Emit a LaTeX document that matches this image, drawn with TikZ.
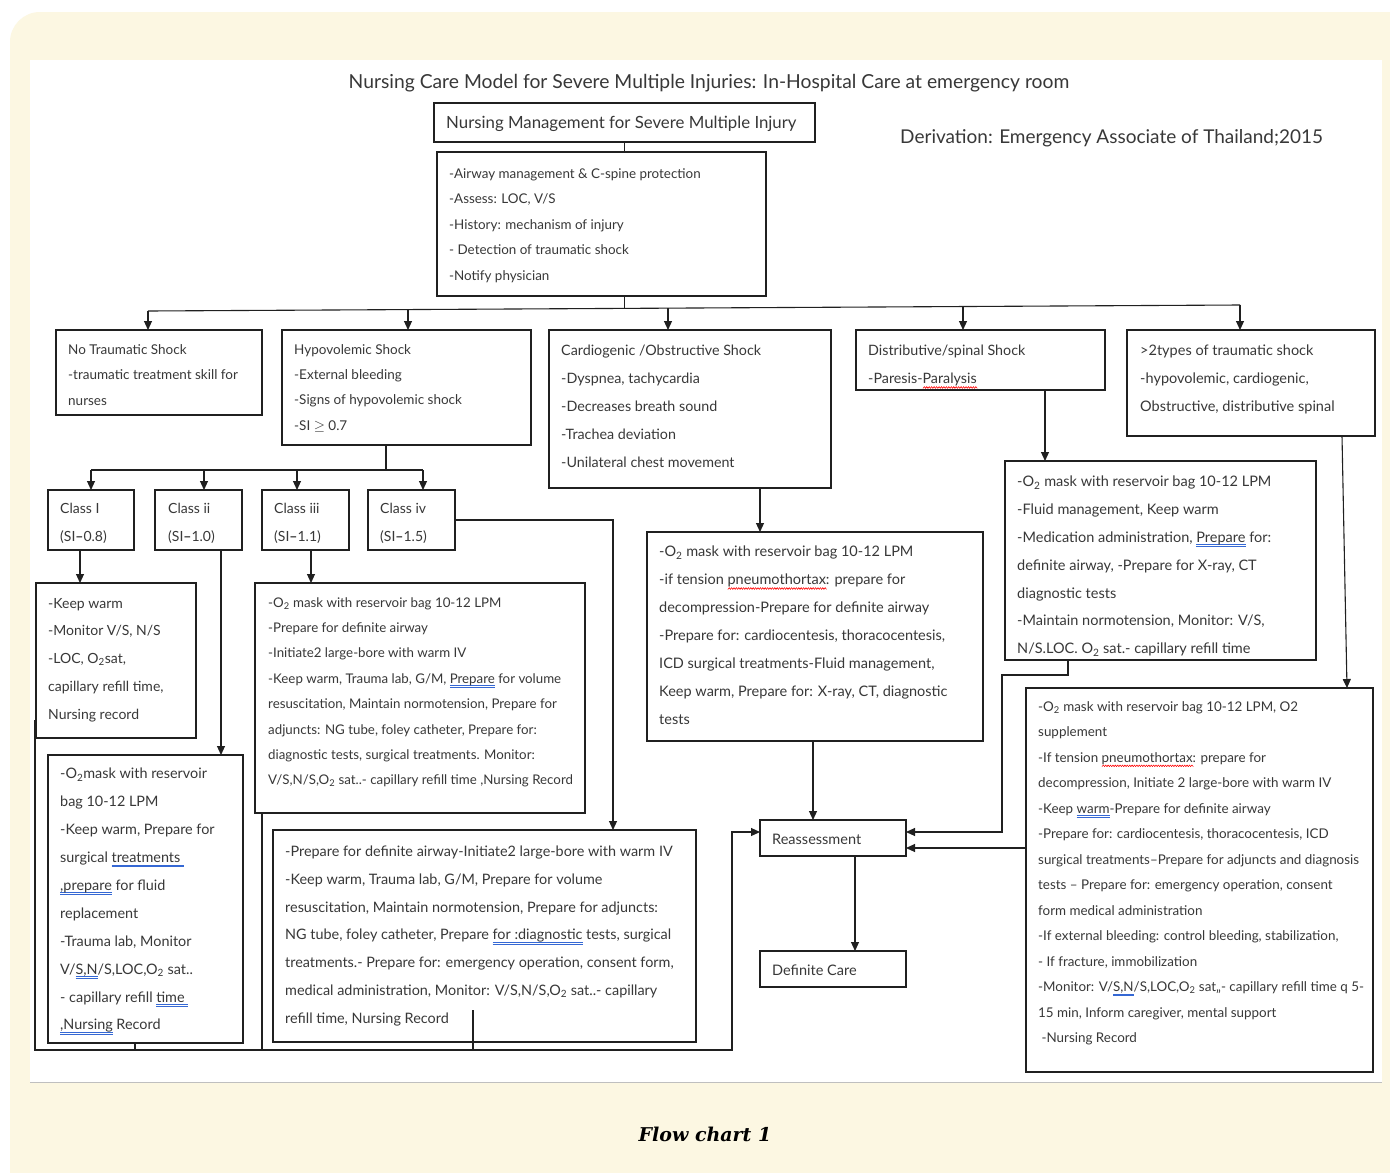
\documentclass[tikz,border=0pt]{standalone}
\usepackage{fontspec}
\setmainfont{Lato}
\newfontfamily\capfont{DejaVu Serif}
\usetikzlibrary{arrows.meta,calc}
\definecolor{cream}{HTML}{FCF7E2}
\definecolor{txtc}{HTML}{383838}
\definecolor{wordblue}{HTML}{3568D4}
\definecolor{linec}{HTML}{202020}
\newsavebox\mywordbox
\newcommand\bul[1]{\sbox\mywordbox{#1}\rlap{\color{wordblue}\rule[-2.6pt]{\wd\mywordbox}{0.6pt}}\rlap{\color{wordblue}\rule[-4.2pt]{\wd\mywordbox}{0.6pt}}\usebox\mywordbox}
\newcommand\zigpiece{\hbox{\rotatebox[origin=c]{45}{\rule{2.4pt}{0.55pt}}\kern-0.9pt\rotatebox[origin=c]{-45}{\rule{2.4pt}{0.55pt}}\kern-0.9pt}}
\newcommand\redw[1]{\sbox\mywordbox{#1}\rlap{\color{red}\raisebox{-4pt}[0pt][0pt]{\hbox to \wd\mywordbox{\xleaders\zigpiece\hfil}}}\usebox\mywordbox}
\newcommand\Otwo{O\textsubscript{2}}
\newcommand\sidash{\textbf{–}}
\newcommand\mkbox[5]{\node[boxst,anchor=north west,minimum width={(#4-#2)*1pt},minimum height={(#5-#3)*1pt}] (#1) at (#2,#3) {};}
\tikzset{
  boxst/.style={draw=linec,line width=1.3pt,inner sep=0pt,outer sep=0pt,fill=white},
  txt/.style={text=txtc,align=left,inner sep=0pt,anchor=north west,font=\fontsize{13.4}{25.5}\selectfont},
  one/.style={text=txtc,inner sep=0pt,anchor=west},
  arr/.style={draw=linec,line width=1.1pt,-{Triangle[length=9pt,width=8pt]}},
  ln/.style={draw=linec,line width=1.1pt},
}
\begin{document}
\begin{tikzpicture}[x=1pt,y=-1pt]
\useasboundingbox (0,0) rectangle (1390,1173);
\begin{scope}
\clip (0,0) rectangle (1390,1173);
\fill[white] (0,0) rectangle (1390,1173);
\fill[cream,rounded corners=30pt] (10,12) rectangle (1440,1220);
\end{scope}
\fill[white] (30,60) rectangle (1382,1082);
\draw[black!25,line width=0.8pt] (30,1082) -- (1382,1082);

% titles
\node[text=txtc,inner sep=0pt,font=\fontsize{19.3}{22}\selectfont,anchor=center] (title) at (709,83) {Nursing Care Model for Severe Multiple Injuries: In-Hospital Care at emergency room};
\node[one,font=\fontsize{19}{22}\selectfont] (deriv) at (900,138) {Derivation: Emergency Associate of Thailand;2015};
\node[inner sep=0pt,font=\capfont\bfseries\itshape\fontsize{19}{22}\selectfont,anchor=center] (cap) at (705,1134) {Flow chart 1};

% boxes
\mkbox{top}{434}{103}{815}{142}
\node[one,font=\fontsize{16.8}{19}\selectfont] (toptxt) at (446,124) {Nursing Management for Severe Multiple Injury};
\mkbox{mainb}{437}{152}{766}{296}
\node[txt] (maint) at (449,168) {-Airway management \& C-spine protection\\-Assess: LOC, V/S\\-History: mechanism of injury\\- Detection of traumatic shock\\-Notify physician};

\mkbox{b1}{56}{330}{262}{415}
\node[txt,font=\fontsize{13.5}{25.5}\selectfont] (b1t) at (68,344) {No Traumatic Shock\\-traumatic treatment skill for\\nurses};
\mkbox{b2}{282}{330}{531}{445}
\node[txt,font=\fontsize{13.5}{25.3}\selectfont] (b2t) at (294,344) {Hypovolemic Shock\\-External bleeding\\-Signs of hypovolemic shock\\-SI $\geq$ 0.7};
\mkbox{b3}{549}{330}{831}{488}
\node[txt,font=\fontsize{14.3}{28}\selectfont] (b3t) at (561,345) {Cardiogenic /Obstructive Shock\\-Dyspnea, tachycardia\\-Decreases breath sound\\-Trachea deviation\\-Unilateral chest movement};
\mkbox{b4}{856}{330}{1105}{390}
\node[txt,font=\fontsize{14.3}{28}\selectfont] (b4t) at (868,345) {Distributive/spinal Shock\\-Paresis-\redw{Paralysis}};
\mkbox{b5}{1127}{330}{1375}{436}
\node[txt,font=\fontsize{14.5}{28}\selectfont] (b5t) at (1140,345) {>2types of traumatic shock\\-hypovolemic, cardiogenic,\\Obstructive, distributive spinal};

% class boxes
\mkbox{c1}{48}{490}{134}{550}
\node[txt,font=\fontsize{14}{28}\selectfont] (c1t) at (60,503) {Class I\\(SI\sidash0.8)};
\mkbox{c2}{155}{490}{242}{550}
\node[txt,font=\fontsize{14}{28}\selectfont] (c2t) at (168,503) {Class ii\\(SI\sidash1.0)};
\mkbox{c3}{262}{490}{349}{550}
\node[txt,font=\fontsize{14}{28}\selectfont] (c3t) at (274,503) {Class iii\\(SI\sidash1.1)};
\mkbox{c4}{368}{490}{455}{550}
\node[txt,font=\fontsize{14}{28}\selectfont] (c4t) at (380,503) {Class iv\\(SI\sidash1.5)};

\mkbox{kw}{36}{583}{196}{738}
\node[txt,font=\fontsize{14}{27.7}\selectfont] (kwt) at (48,598) {-Keep warm\\-Monitor V/S, N/S\\-LOC, \Otwo sat,\\capillary refill time,\\Nursing record};
\mkbox{bl}{48}{755}{243}{1043}
\node[txt,font=\fontsize{14.4}{27.9}\selectfont] (blt) at (60,768) {-\Otwo mask with reservoir\\bag 10-12 LPM\\-Keep warm, Prepare for\\surgical \bul{treatments\ }\\\bul{,prepare} for fluid\\replacement\\-Trauma lab, Monitor\\V/\bul{S,N}/S,LOC,\Otwo\ sat..\\- capillary refill \bul{time\ }\\\bul{,Nursing} Record};
\mkbox{cb}{255}{583}{585}{813}
\node[txt,font=\fontsize{13.3}{25.4}\selectfont] (cbt) at (268,597) {-\Otwo\ mask with reservoir bag 10-12 LPM\\-Prepare for definite airway\\-Initiate2 large-bore with warm IV\\-Keep warm, Trauma lab, G/M, \bul{Prepare} for volume\\resuscitation, Maintain normotension, Prepare for\\adjuncts: NG tube, foley catheter, Prepare for:\\diagnostic tests, surgical treatments. Monitor:\\V/S,N/S,\Otwo\ sat..- capillary refill time ,Nursing Record};
\mkbox{bm}{273}{830}{696}{1042}
\node[txt,font=\fontsize{14.4}{27.7}\selectfont] (bmt) at (285,846) {-Prepare for definite airway-Initiate2 large-bore with warm IV\\-Keep warm, Trauma lab, G/M, Prepare for volume\\resuscitation, Maintain normotension, Prepare for adjuncts:\\NG tube, foley catheter, Prepare \bul{for :diagnostic} tests, surgical\\treatments.- Prepare for: emergency operation, consent form,\\medical administration, Monitor: V/S,N/S,\Otwo\ sat..- capillary\\refill time, Nursing Record};
\mkbox{cf}{647}{532}{983}{741}
\node[txt,font=\fontsize{14.5}{27.9}\selectfont] (cft) at (659,546) {-\Otwo\ mask with reservoir bag 10-12 LPM\\-if tension \redw{pneumothortax}: prepare for\\decompression-Prepare for definite airway\\-Prepare for: cardiocentesis, thoracocentesis,\\ICD surgical treatments-Fluid management,\\Keep warm, Prepare for: X-ray, CT, diagnostic\\tests};
\mkbox{df}{1005}{461}{1316}{660}
\node[txt,font=\fontsize{14.5}{27.8}\selectfont] (dft) at (1017,476) {-\Otwo\ mask with reservoir bag 10-12 LPM\\-Fluid management, Keep warm\\-Medication administration, \bul{Prepare} for:\\definite airway, -Prepare for X-ray, CT\\diagnostic tests\\-Maintain normotension, Monitor: V/S,\\N/S.LOC. \Otwo\ sat.- capillary refill time};
\mkbox{rb}{1026}{688}{1373}{1072}
\node[txt,font=\fontsize{13.4}{25.5}\selectfont] (rbt) at (1038,701) {-\Otwo\ mask with reservoir bag 10-12 LPM, O2\\supplement\\-If tension \redw{pneumothortax}: prepare for\\decompression, Initiate 2 large-bore with warm IV\\-Keep \bul{warm}-Prepare for definite airway\\-Prepare for: cardiocentesis, thoracocentesis, ICD\\surgical treatments–Prepare for adjuncts and diagnosis\\tests – Prepare for: emergency operation, consent\\form medical administration\\-If external bleeding: control bleeding, stabilization,\\- If fracture, immobilization\\-Monitor: V/\bul{S,N}/S,LOC,\Otwo\ sat,,- capillary refill time q 5-\\15 min, Inform caregiver, mental support\\\ -Nursing Record};

\mkbox{re}{760}{820}{906}{856}
\node[one,font=\fontsize{14.5}{16}\selectfont] (ret) at (772,839) {Reassessment};
\mkbox{dc}{760}{951}{906}{987}
\node[one,font=\fontsize{14.5}{16}\selectfont] (dct) at (772,970) {Definite Care};

% connectors
\draw[ln] (top.south) -- (top.south |- mainb.north);
\coordinate (j1) at (148,311);
\coordinate (j2) at (408,309.6);
\coordinate (j3) at (668,308.1);
\coordinate (jm) at (top.south |- 0,308.4);
\coordinate (j4) at (963,306.5);
\coordinate (j5) at (1240,305);
\draw[ln] (top.south |- mainb.south) -- (jm);
\draw[ln] (j1) -- (j5);
\draw[arr] (j1) -- (j1 |- b1.north);
\draw[arr] (j2) -- (j2 |- b2.north);
\draw[arr] (j3) -- (j3 |- b3.north);
\draw[arr] (j4) -- (j4 |- b4.north);
\draw[arr] (j5) -- (j5 |- b5.north);

\coordinate (hb) at (386,470);
\coordinate (k1) at (91,470);
\coordinate (k2) at (204,470);
\coordinate (k3) at (297,470);
\coordinate (k4) at (423,470);
\draw[ln] (hb |- b2.south) -- (hb);
\draw[ln] (k1) -- (k4);
\draw[arr] (k1) -- (k1 |- c1.north);
\draw[arr] (k2) -- (k2 |- c2.north);
\draw[arr] (k3) -- (k3 |- c3.north);
\draw[arr] (k4) -- (k4 |- c4.north);

\draw[arr] ([xshift=-11pt]c1.south) -- ([xshift=-11pt]c1.south |- kw.north);
\draw[arr] ([xshift=22.5pt]c2.south) -- ([xshift=22.5pt]c2.south |- bl.north);
\draw[arr] ([xshift=5.5pt]c3.south) -- ([xshift=5.5pt]c3.south |- cb.north);
\coordinate (q4) at (613,520);
\draw[arr] (c4.east) -- (q4) -- (q4 |- bm.north);

\draw[arr] ([xshift=70pt]b3.south) -- ([xshift=70pt]b3.south |- cf.north);
\draw[arr] ([xshift=-20pt]re.north |- cf.south) -- ([xshift=-20pt]re.north);
\draw[arr] ([xshift=22pt]re.south) -- ([xshift=22pt]dc.north);
\draw[arr] ([xshift=64.5pt]b4.south) -- ([xshift=64.5pt]b4.south |- df.north);

\coordinate (r1) at (1068,675);
\coordinate (r2) at (1002,675);
\coordinate (r3) at (1002,832);
\draw[arr] (r1 |- df.south) -- (r1) -- (r2) -- (r3) -- (r3 -| re.east);
\coordinate (r4) at (1026,848);
\draw[arr] (r4 -| rb.west) -- (r4 -| re.east);
\draw[arr] ([xshift=91pt]b5.south) -- ([xshift=147.5pt]rb.north);

% collector at bottom
\coordinate (v0) at (35,720);
\coordinate (u0) at (35,1050);
\coordinate (u1) at (732,1050);
\coordinate (u2) at (732,832);
\draw[arr] (v0) -- (u0) -- (u1) -- (u2) -- (u2 -| re.west);
\draw[ln] ([xshift=-10.5pt]bl.south) -- ([xshift=-10.5pt]bl.south |- u0);
\draw[ln] ([xshift=7pt]cb.south west) -- ([xshift=7pt]cb.south west |- u0);
\coordinate (w) at (473,1010);
\draw[ln] (w) -- (w |- u0);
\end{tikzpicture}
\end{document}
